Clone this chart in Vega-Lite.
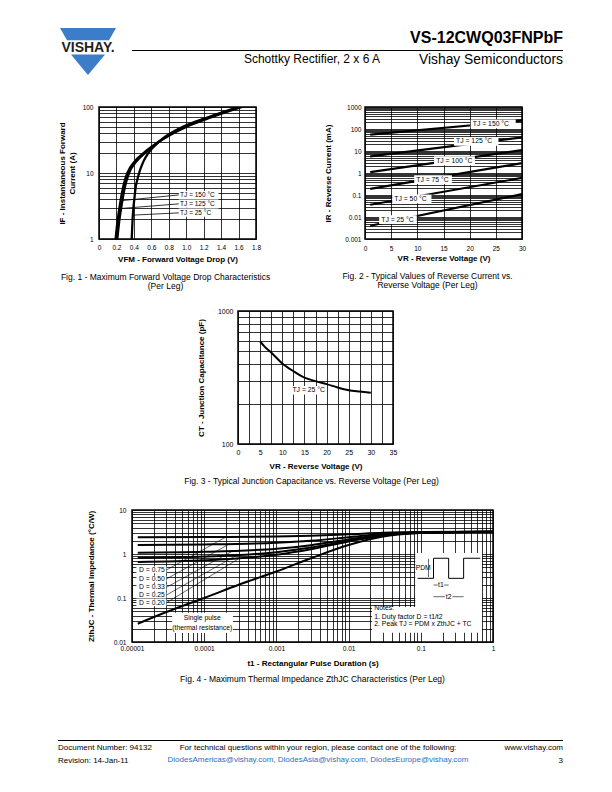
{
"$schema":"https://vega.github.io/schema/vega-lite/v6.json",
"padding":0,
"background":"white",
"config":{
  "font":"Liberation Sans",
  "view":{"stroke":null},
  "axis":{"grid":true,"gridColor":"black","gridOpacity":1,"gridWidth":0.8,"ticks":false,"domain":false,"labelColor":"black","labelFontSize":6.5,"labelOverlap":false,"labelFlush":false,"labelPadding":5,"titleColor":"black","titleFontSize":8,"titleFontWeight":"bold"},
  "title":{"color":"black","fontWeight":"normal","subtitleColor":"black"}
},
"datasets":{
  "logo":[{"p":"u","x":0,"y":1,"y2":1},{"p":"u","x":0.125,"y":1,"y2":0.74},{"p":"u","x":0.875,"y":1,"y2":0.74},{"p":"u","x":1,"y":1,"y2":1},
          {"p":"l","x":0.196,"y":0.438,"y2":0.438},{"p":"l","x":0.5,"y":0.438,"y2":0},{"p":"l","x":0.804,"y":0.438,"y2":0.438}],
  "f1":[
   {"s":"150","v":0.19,"i":1},{"s":"150","v":0.215,"i":2},{"s":"150","v":0.235,"i":3},{"s":"150","v":0.25,"i":4},{"s":"150","v":0.275,"i":6},{"s":"150","v":0.3,"i":8},{"s":"150","v":0.325,"i":10},{"s":"150","v":0.41,"i":15},{"s":"150","v":0.51,"i":20},{"s":"150","v":0.69,"i":30},{"s":"150","v":1.0,"i":50},{"s":"150","v":1.29,"i":70},{"s":"150","v":1.64,"i":100},
   {"s":"125","v":0.21,"i":1},{"s":"125","v":0.235,"i":2},{"s":"125","v":0.255,"i":3},{"s":"125","v":0.27,"i":4},{"s":"125","v":0.295,"i":6},{"s":"125","v":0.32,"i":8},{"s":"125","v":0.345,"i":10},{"s":"125","v":0.43,"i":15},{"s":"125","v":0.525,"i":20},{"s":"125","v":0.69,"i":30},{"s":"125","v":0.98,"i":50},{"s":"125","v":1.27,"i":70},{"s":"125","v":1.62,"i":100},
   {"s":"25","v":0.375,"i":1},{"s":"25","v":0.385,"i":2},{"s":"25","v":0.395,"i":3},{"s":"25","v":0.405,"i":4},{"s":"25","v":0.42,"i":6},{"s":"25","v":0.44,"i":8},{"s":"25","v":0.46,"i":10},{"s":"25","v":0.51,"i":15},{"s":"25","v":0.565,"i":20},{"s":"25","v":0.69,"i":30},{"s":"25","v":0.96,"i":50},{"s":"25","v":1.25,"i":70},{"s":"25","v":1.6,"i":100}],
  "f1lead":[{"s":"a","v":0.92,"i":4.66},{"s":"a","v":0.25,"i":3.8},{"s":"b","v":0.92,"i":3.41},{"s":"b","v":0.253,"i":2.9},{"s":"c","v":0.92,"i":2.49},{"s":"c","v":0.388,"i":2.3}],
  "f1box":[{"v":0.915,"v2":1.37,"i":4.05,"i2":5.35},{"v":0.915,"v2":1.37,"i":2.97,"i2":3.95},{"v":0.915,"v2":1.37,"i":2.17,"i2":2.9}],
  "f1lab":[{"v":0.93,"i":4.66,"t":"TJ = 150 °C"},{"v":0.93,"i":3.41,"t":"TJ = 125 °C"},{"v":0.93,"i":2.49,"t":"TJ =   25 °C"}],
  "f2":[
   {"s":"150","v":1,"i":55},{"s":"150","v":30,"i":240},
   {"s":"125","v":1,"i":5.7},{"s":"125","v":30,"i":42},
   {"s":"100","v":1,"i":1.1},{"s":"100","v":30,"i":11},
   {"s":"75","v":1,"i":0.19},{"s":"75","v":30,"i":2.8},
   {"s":"50","v":1,"i":0.036},{"s":"50","v":30,"i":0.6},
   {"s":"25","v":1,"i":0.004},{"s":"25","v":30,"i":0.11}],
  "f2box":[{"v":20.2,"v2":28.8,"i":107,"i2":268},{"v":17.0,"v2":25.5,"i":17.4,"i2":43.6},{"v":13.2,"v2":21.0,"i":2.27,"i2":5.7},{"v":9.4,"v2":16.6,"i":0.315,"i2":0.79},{"v":5.2,"v2":12.7,"i":0.042,"i2":0.105},{"v":2.7,"v2":9.9,"i":0.0048,"i2":0.012}],
  "f2lab":[{"v":20.6,"i":169,"t":"TJ = 150 °C"},{"v":17.4,"i":27.5,"t":"TJ = 125 °C"},{"v":13.6,"i":3.6,"t":"TJ = 100 °C"},{"v":9.8,"i":0.5,"t":"TJ = 75 °C"},{"v":5.6,"i":0.066,"t":"TJ = 50 °C"},{"v":3.1,"i":0.0076,"t":"TJ = 25 °C"}],
  "f3":[{"v":5,"c":590},{"v":6,"c":540},{"v":7.5,"c":487},{"v":10,"c":403},{"v":12.5,"c":353},{"v":15,"c":316},{"v":17.5,"c":297},{"v":20,"c":282},{"v":22.5,"c":266},{"v":25,"c":254},{"v":27.5,"c":248},{"v":30,"c":243}],
  "f3box":[{"v":12.0,"v2":19.8,"c":236,"c2":273}],
  "f3lab":[{"v":12.3,"c":254,"t":"TJ = 25 °C"}],
  "f4":[
   {"s":"0.75","t":0.000012,"z":2.41},{"s":"0.75","t":0.0001,"z":2.43},{"s":"0.75","t":0.001,"z":2.5},{"s":"0.75","t":0.003,"z":2.6},{"s":"0.75","t":0.01,"z":2.8},{"s":"0.75","t":0.03,"z":3.03},{"s":"0.75","t":0.1,"z":3.15},{"s":"0.75","t":1,"z":3.2},
   {"s":"0.5","t":0.000012,"z":1.61},{"s":"0.5","t":0.0001,"z":1.65},{"s":"0.5","t":0.001,"z":1.8},{"s":"0.5","t":0.003,"z":2.0},{"s":"0.5","t":0.01,"z":2.4},{"s":"0.5","t":0.03,"z":2.85},{"s":"0.5","t":0.1,"z":3.1},{"s":"0.5","t":1,"z":3.2},
   {"s":"0.33","t":0.000012,"z":1.07},{"s":"0.33","t":0.0001,"z":1.12},{"s":"0.33","t":0.001,"z":1.32},{"s":"0.33","t":0.003,"z":1.59},{"s":"0.33","t":0.01,"z":2.13},{"s":"0.33","t":0.03,"z":2.73},{"s":"0.33","t":0.1,"z":3.07},{"s":"0.33","t":1,"z":3.2},
   {"s":"0.25","t":0.000012,"z":0.82},{"s":"0.25","t":0.0001,"z":0.875},{"s":"0.25","t":0.001,"z":1.1},{"s":"0.25","t":0.003,"z":1.4},{"s":"0.25","t":0.01,"z":2.0},{"s":"0.25","t":0.03,"z":2.68},{"s":"0.25","t":0.1,"z":3.05},{"s":"0.25","t":1,"z":3.2},
   {"s":"0.2","t":0.000012,"z":0.66},{"s":"0.2","t":0.0001,"z":0.72},{"s":"0.2","t":0.001,"z":0.96},{"s":"0.2","t":0.003,"z":1.28},{"s":"0.2","t":0.01,"z":1.92},{"s":"0.2","t":0.03,"z":2.64},{"s":"0.2","t":0.1,"z":3.04},{"s":"0.2","t":1,"z":3.2},
   {"s":"sp","t":0.000012,"z":0.026},{"s":"sp","t":0.00003,"z":0.048},{"s":"sp","t":0.0001,"z":0.1},{"s":"sp","t":0.0003,"z":0.2},{"s":"sp","t":0.001,"z":0.4},{"s":"sp","t":0.003,"z":0.8},{"s":"sp","t":0.01,"z":1.6},{"s":"sp","t":0.03,"z":2.5},{"s":"sp","t":0.1,"z":3.0},{"s":"sp","t":0.3,"z":3.15},{"s":"sp","t":1,"z":3.2}],
  "f4lead":[
   {"s":"a","t":0.00003,"z":0.433},{"s":"a","t":0.0002,"z":2.43},
   {"s":"b","t":0.00003,"z":0.27},{"s":"b","t":0.00022,"z":1.67},
   {"s":"c","t":0.00003,"z":0.175},{"s":"c","t":0.00025,"z":1.18},
   {"s":"d","t":0.00003,"z":0.117},{"s":"d","t":0.00028,"z":0.93},
   {"s":"e","t":0.00003,"z":0.078},{"s":"e","t":0.0003,"z":0.78}],
  "f4box":[
   {"t":0.0000115,"t2":0.00003,"z":0.361,"z2":0.52},
   {"t":0.0000115,"t2":0.00003,"z":0.225,"z2":0.324},
   {"t":0.0000115,"t2":0.00003,"z":0.146,"z2":0.21},
   {"t":0.0000115,"t2":0.00003,"z":0.0975,"z2":0.14},
   {"t":0.0000115,"t2":0.00003,"z":0.065,"z2":0.0936},
   {"t":0.000036,"t2":0.00025,"z":0.016,"z2":0.046},
   {"t":0.0839,"t2":0.705,"z":0.0624,"z2":1.05},
   {"t":0.0211,"t2":0.705,"z":0.0163,"z2":0.0624}],
  "f4wave":[{"k":1,"t":0.0904,"z":0.28},{"k":2,"t":0.15,"z":0.28},{"k":3,"t":0.15,"z":0.8},{"k":4,"t":0.243,"z":0.8},{"k":5,"t":0.243,"z":0.28},{"k":6,"t":0.392,"z":0.28},{"k":7,"t":0.392,"z":0.8},{"k":8,"t":0.667,"z":0.8}],
  "f4arr":[{"s":"a1","t":0.15,"z":0.197},{"s":"a1","t":0.172,"z":0.197},{"s":"a2","t":0.21,"z":0.197},{"s":"a2","t":0.243,"z":0.197},
           {"s":"b1","t":0.15,"z":0.107},{"s":"b1","t":0.215,"z":0.107},{"s":"b2","t":0.275,"z":0.107},{"s":"b2","t":0.392,"z":0.107},
           {"s":"p","t":0.128,"z":0.3},{"s":"p","t":0.128,"z":0.78}],
  "f4labL":[
   {"t":0.0000125,"z":0.433,"x":"D = 0.75"},{"t":0.0000125,"z":0.27,"x":"D = 0.50"},{"t":0.0000125,"z":0.175,"x":"D = 0.33"},{"t":0.0000125,"z":0.117,"x":"D = 0.25"},{"t":0.0000125,"z":0.078,"x":"D = 0.20"},
   {"t":0.0227,"z":0.0593,"x":"Notes:"},{"t":0.0227,"z":0.0376,"x":"1. Duty factor D = t1/t2"},{"t":0.0227,"z":0.0252,"x":"2. Peak TJ = PDM x ZthJC + TC"}],
  "f4labC":[{"t":0.000094,"z":0.0351,"x":"Single pulse"},{"t":0.000094,"z":0.0208,"x":"(thermal resistance)"},{"t":0.19,"z":0.197,"x":"t1"},{"t":0.243,"z":0.107,"x":"t2"},{"t":0.108,"z":0.48,"x":"PDM"}]
},
"bounds":"flush",
"spacing":0,
"vconcat":[
 {"hconcat":[
   {"width":60,"height":1,"data":{"values":[]},"mark":"point"},
   {"vconcat":[
     {"width":56,"height":28,"data":{"values":[]},"mark":"point"},
     {"width":56,"height":47,
      "layer":[
       {"data":{"name":"logo"},"mark":{"type":"area","color":"#3b7dc8"},
        "encoding":{"x":{"field":"x","type":"quantitative","scale":{"domain":[0,1]},"axis":null},"y":{"field":"y","type":"quantitative","scale":{"domain":[0,1]},"axis":null},"y2":{"field":"y2"},"detail":{"field":"p"}}},
       {"data":{"values":[{"x":0.5,"y":0.585,"t":"VISHAY."}]},"mark":{"type":"text","fontSize":14,"fontWeight":"bold","color":"#231f20","baseline":"middle"},
        "encoding":{"x":{"field":"x","type":"quantitative","scale":{"domain":[0,1]},"axis":null},"y":{"field":"y","type":"quantitative","scale":{"domain":[0,1]},"axis":null},"text":{"field":"t"}}}
      ]}
   ],"bounds":"flush","spacing":0},
   {"width":72,"height":1,"data":{"values":[]},"mark":"point"},
   {"vconcat":[
     {"width":431,"height":50,"data":{"values":[]},"mark":"point"},
     {"width":431,"height":1,"data":{"values":[]},"mark":"point","view":{"fill":"black","stroke":null},
      "title":{"text":"VS-12CWQ03FNPbF","anchor":"end","orient":"top","offset":4,"fontSize":16,"fontWeight":"bold"}},
     {"hconcat":[
       {"width":248,"height":1,"data":{"values":[]},"mark":"point","title":{"text":"Schottky Rectifier, 2 x 6 A","anchor":"end","orient":"bottom","offset":2,"fontSize":12}},
       {"width":183,"height":1,"data":{"values":[]},"mark":"point","title":{"text":"Vishay Semiconductors","anchor":"end","orient":"bottom","offset":1,"fontSize":13.8}}
     ],"bounds":"flush","spacing":0}
   ],"bounds":"flush","spacing":0}
 ],"bounds":"flush","spacing":0},
 {"width":612,"height":107,"data":{"values":[]},"mark":"point"},
 {"hconcat":[
   {"width":99,"height":1,"data":{"values":[]},"mark":"point"},
   {"width":157,"height":132,
    "view":{"stroke":"black","strokeWidth":1.5},
    "title":{"text":["Fig. 1 - Maximum Forward Voltage Drop Characteristics","(Per Leg)"],"orient":"bottom","anchor":"middle","frame":"group","dx":-12,"offset":9,"fontSize":8.5,"lineHeight":9.5},
    "encoding":{
     "x":{"field":"v","type":"quantitative","scale":{"domain":[0,1.8],"nice":false,"zero":false},
          "axis":{"values":[0,0.2,0.4,0.6,0.8,1,1.2,1.4,1.6,1.8],"labelExpr":"datum.value == 0 ? '0' : format(datum.value, '.1f')","title":"VFM - Forward Voltage Drop (V)","labelPadding":5,"titlePadding":5}},
     "y":{"field":"i","type":"quantitative","scale":{"type":"log","domain":[1,100],"nice":false},
          "axis":{"values":[1,2,3,4,5,6,7,8,9,10,20,30,40,50,60,70,80,90,100],"labelExpr":"indexof([1,10,100], datum.value) >= 0 ? '' + datum.value : ''","title":["IF - Instantaneous Forward","Current (A)"],"labelPadding":6,"titlePadding":6,"titleLineHeight":10}}
    },
    "layer":[
     {"data":{"name":"f1"},"mark":{"type":"line","color":"black","strokeWidth":2.3,"clip":true,"interpolate":"monotone"},"encoding":{"detail":{"field":"s"}}},
     {"data":{"name":"f1lead"},"mark":{"type":"line","color":"black","strokeWidth":0.8},"encoding":{"detail":{"field":"s"}}},
     {"data":{"name":"f1box"},"mark":{"type":"rect","color":"white"},"encoding":{"x2":{"field":"v2"},"y2":{"field":"i2"}}},
     {"data":{"name":"f1lab"},"mark":{"type":"text","align":"left","baseline":"middle","fontSize":6.5,"color":"black"},"encoding":{"text":{"field":"t"}}}
    ]},
   {"width":109,"height":1,"data":{"values":[]},"mark":"point"},
   {"width":157,"height":132,
    "view":{"stroke":"black","strokeWidth":1.5},
    "title":{"text":["Fig. 2 - Typical Values of Reverse Current vs.","Reverse Voltage (Per Leg)"],"orient":"bottom","anchor":"middle","frame":"group","dx":-16,"offset":9,"fontSize":8.5,"lineHeight":9.5},
    "encoding":{
     "x":{"field":"v","type":"quantitative","scale":{"domain":[0,30],"nice":false,"zero":false},
          "axis":{"values":[0,5,10,15,20,25,30],"title":"VR - Reverse Voltage (V)","labelPadding":6,"titlePadding":3}},
     "y":{"field":"i","type":"quantitative","scale":{"type":"log","domain":[0.001,1000],"nice":false},
          "axis":{"values":[0.001,0.002,0.003,0.004,0.005,0.006,0.007,0.008,0.009,0.01,0.02,0.03,0.04,0.05,0.06,0.07,0.08,0.09,0.1,0.2,0.3,0.4,0.5,0.6,0.7,0.8,0.9,1,2,3,4,5,6,7,8,9,10,20,30,40,50,60,70,80,90,100,200,300,400,500,600,700,800,900,1000],
                  "labelExpr":"indexof([0.001,0.01,0.1,1,10,100,1000], datum.value) >= 0 ? '' + datum.value : ''","title":"IR - Reverse Current (mA)","labelPadding":4,"titlePadding":12}}
    },
    "layer":[
     {"data":{"name":"f2"},"mark":{"type":"line","color":"black","strokeWidth":2.2,"clip":true},"encoding":{"detail":{"field":"s"}}},
     {"data":{"name":"f2box"},"mark":{"type":"rect","color":"white"},"encoding":{"x2":{"field":"v2"},"y2":{"field":"i2"}}},
     {"data":{"name":"f2lab"},"mark":{"type":"text","align":"left","baseline":"middle","fontSize":6.8,"color":"black"},"encoding":{"text":{"field":"t"}}}
    ]}
 ],"bounds":"flush","spacing":0},
 {"width":612,"height":204,"data":{"values":[]},"mark":"point"},
 {"hconcat":[
   {"width":238,"height":1,"data":{"values":[]},"mark":"point"},
   {"width":155,"height":133,
    "view":{"stroke":"black","strokeWidth":1.5},
    "title":{"text":"Fig. 3 - Typical Junction Capacitance vs. Reverse Voltage (Per Leg)","orient":"bottom","anchor":"middle","frame":"group","dx":-4,"offset":7,"fontSize":8.5},
    "encoding":{
     "x":{"field":"v","type":"quantitative","scale":{"domain":[0,35],"nice":false,"zero":false},
          "axis":{"values":[0,2.5,5,7.5,10,12.5,15,17.5,20,22.5,25,27.5,30,32.5,35],"labelExpr":"datum.value % 5 == 0 ? '' + datum.value : ''","title":"VR - Reverse Voltage (V)","labelPadding":4,"titlePadding":7,"labelFontSize":7}},
     "y":{"field":"c","type":"quantitative","scale":{"type":"log","domain":[100,1000],"nice":false},
          "axis":{"values":[100,200,300,400,500,600,700,800,900,1000],"labelExpr":"indexof([100,1000], datum.value) >= 0 ? '' + datum.value : ''","title":"CT - Junction Capacitance (pF)","labelPadding":5,"titlePadding":12,"labelFontSize":7}}
    },
    "layer":[
     {"data":{"name":"f3"},"mark":{"type":"line","color":"black","strokeWidth":2,"interpolate":"monotone"},"encoding":{}},
     {"data":{"name":"f3box"},"mark":{"type":"rect","color":"white"},"encoding":{"x2":{"field":"v2"},"y2":{"field":"c2"}}},
     {"data":{"name":"f3lab"},"mark":{"type":"text","align":"left","baseline":"middle","fontSize":6.8,"color":"black"},"encoding":{"text":{"field":"t"}}}
    ]}
 ],"bounds":"flush","spacing":0},
 {"width":612,"height":199,"data":{"values":[]},"mark":"point"},
 {"hconcat":[
   {"width":132,"height":1,"data":{"values":[]},"mark":"point"},
   {"width":361,"height":132,
    "view":{"stroke":"black","strokeWidth":1.5},
    "title":{"text":"Fig. 4 - Maximum Thermal Impedance ZthJC Characteristics (Per Leg)","orient":"bottom","anchor":"middle","frame":"group","dx":0,"offset":7,"fontSize":8.5},
    "encoding":{
     "x":{"field":"t","type":"quantitative","scale":{"type":"log","domain":[0.00001,1],"nice":false},
          "axis":{"values":[0.00001,0.00002,0.00003,0.00004,0.00005,0.00006,0.00007,0.00008,0.00009,0.0001,0.0002,0.0003,0.0004,0.0005,0.0006,0.0007,0.0008,0.0009,0.001,0.002,0.003,0.004,0.005,0.006,0.007,0.008,0.009,0.01,0.02,0.03,0.04,0.05,0.06,0.07,0.08,0.09,0.1,0.2,0.3,0.4,0.5,0.6,0.7,0.8,0.9,1],
                  "labelExpr":"indexof([0.00001,0.0001,0.001,0.01,0.1,1], datum.value) >= 0 ? '' + datum.value : ''","title":"t1 - Rectangular Pulse Duration (s)","labelPadding":3,"titlePadding":8,"labelFontSize":6.6}},
     "y":{"field":"z","type":"quantitative","scale":{"type":"log","domain":[0.01,10],"nice":false},
          "axis":{"values":[0.01,0.02,0.03,0.04,0.05,0.06,0.07,0.08,0.09,0.1,0.2,0.3,0.4,0.5,0.6,0.7,0.8,0.9,1,2,3,4,5,6,7,8,9,10],
                  "labelExpr":"indexof([0.01,0.1,1,10], datum.value) >= 0 ? '' + datum.value : ''","title":"ZthJC - Thermal Impedance (°C/W)","labelPadding":6,"titlePadding":18,"labelFontSize":6.6}}
    },
    "layer":[
     {"data":{"name":"f4box"},"mark":{"type":"rect","color":"white"},"encoding":{"x2":{"field":"t2"},"y2":{"field":"z2"}}},
     {"data":{"name":"f4"},"mark":{"type":"line","color":"black","strokeWidth":2,"interpolate":"monotone"},"encoding":{"detail":{"field":"s"}}},
     {"data":{"name":"f4lead"},"mark":{"type":"line","color":"black","strokeWidth":0.6},"encoding":{"detail":{"field":"s"}}},
     {"data":{"name":"f4wave"},"mark":{"type":"line","color":"black","strokeWidth":1},"encoding":{"order":{"field":"k"}}},
     {"data":{"name":"f4arr"},"mark":{"type":"line","color":"black","strokeWidth":0.6},"encoding":{"detail":{"field":"s"}}},
     {"data":{"name":"f4labL"},"mark":{"type":"text","align":"left","baseline":"middle","fontSize":6.8,"color":"black"},"encoding":{"text":{"field":"x"}}},
     {"data":{"name":"f4labC"},"mark":{"type":"text","align":"center","baseline":"middle","fontSize":6.8,"color":"black"},"encoding":{"text":{"field":"x"}}}
    ]}
 ],"bounds":"flush","spacing":0},
 {"width":612,"height":230,"data":{"values":[]},"mark":"point"},
 {"hconcat":[
   {"width":58,"height":1,"data":{"values":[]},"mark":"point"},
   {"width":110,"height":1,"data":{"values":[]},"mark":"point","view":{"fill":"black","stroke":null},
    "title":{"text":["Document Number: 94132","Revision: 14-Jan-11"],"anchor":"start","orient":"bottom","offset":3,"fontSize":8,"lineHeight":12.5}},
   {"width":300,"height":1,"data":{"values":[]},"mark":"point","view":{"fill":"black","stroke":null},
    "title":{"text":"For technical questions within your region, please contact one of the following:","subtitle":"DiodesAmericas@vishay.com, DiodesAsia@vishay.com, DiodesEurope@vishay.com","subtitleColor":"#2a72c4","subtitleFontSize":8,"subtitlePadding":4,"anchor":"middle","orient":"bottom","offset":3,"fontSize":8}},
   {"width":95,"height":1,"data":{"values":[]},"mark":"point","view":{"fill":"black","stroke":null},
    "title":{"text":["www.vishay.com","3"],"anchor":"end","orient":"bottom","offset":3,"fontSize":8,"lineHeight":12.5}}
 ],"bounds":"flush","spacing":0}
]
}
